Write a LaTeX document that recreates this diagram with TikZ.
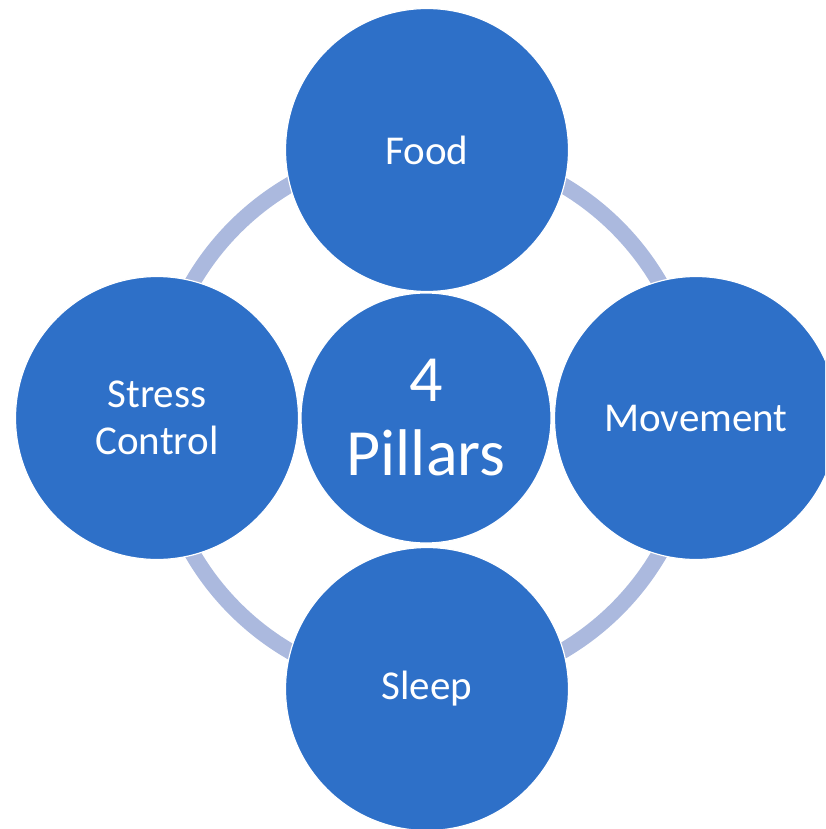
\documentclass[tikz,border=0pt]{standalone}
\usepackage{fontspec}
\setmainfont{Carlito}
\definecolor{pillarblue}{HTML}{2E70C8}
\definecolor{ringblue}{HTML}{ABB9DE}
\begin{document}
\begin{tikzpicture}[x=1pt,y=-1pt,
  pillar/.style={circle, fill=pillarblue, draw=white, line width=1.2pt,
    minimum size=283pt, inner sep=0pt, text=white, align=center,
    font=\fontsize{41}{47}\selectfont},
  hub/.style={pillar, minimum size=250pt, font=\fontsize{66}{74}\selectfont},
  ring/.style={draw=ringblue, line width=16pt}]
\useasboundingbox (0,0) rectangle (825,829);
\clip (0,0) rectangle (825,829);
% connecting ring behind the pillars
\coordinate (c) at (426,418);
\draw[ring] (c) circle[radius=270pt];
% pillars around the hub
\node[pillar] (food) at (427,150) {Food};
\node[pillar] (move) at (696,418) {Movement};
\node[pillar] (sleep) at (427,689) {Sleep};
\node[pillar] (stress) at (157,418) {Stress\\Control};
\node[hub] (hub) at (c) {4\\Pillars};
\end{tikzpicture}
\end{document}
